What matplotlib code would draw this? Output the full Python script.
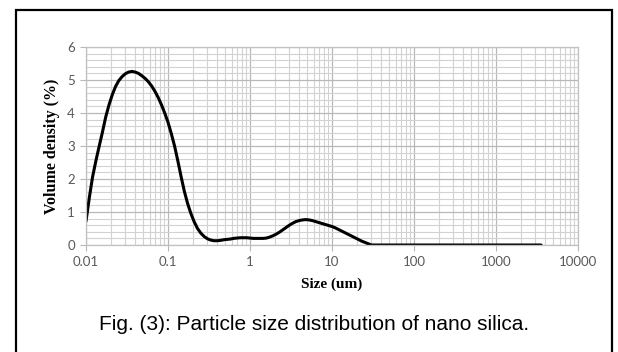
import matplotlib.pyplot as plt
from matplotlib.patches import Rectangle
from matplotlib.ticker import FixedLocator, LogLocator, MultipleLocator, NullFormatter

# particle size (um) and volume density (%)
size_um = [0.0100, 0.0110, 0.0120, 0.0132, 0.0145, 0.0158, 0.0174, 0.0191,
           0.0209, 0.0229, 0.0251, 0.0275, 0.0302, 0.0331, 0.0363, 0.0398,
           0.0437, 0.0479, 0.0525, 0.0575, 0.0631, 0.0692, 0.0759, 0.0832,
           0.0912, 0.1000, 0.1096, 0.1202, 0.1318, 0.1445, 0.1585, 0.1738,
           0.1905, 0.2089, 0.2291, 0.2512, 0.2754, 0.302, 0.331, 0.363,
           0.398, 0.437, 0.479, 0.525, 0.575, 0.631, 0.692, 0.759, 0.832,
           0.912, 1.0, 1.096, 1.202, 1.318, 1.445, 1.585, 1.738, 1.905,
           2.089, 2.291, 2.512, 2.754, 3.02, 3.31, 3.63, 3.98, 4.37, 4.79,
           5.25, 5.75, 6.31, 6.92, 7.59, 8.32, 9.12, 10.0, 10.96, 12.02,
           13.18, 14.45, 15.85, 17.38, 19.05, 20.89, 22.91, 25.12, 27.54,
           30.2, 100.0, 1000.0, 3548.0]
volume = [0.72, 1.45, 2.05, 2.55, 3.0, 3.4, 3.88, 4.25,
          4.55, 4.8, 4.98, 5.1, 5.19, 5.24, 5.26, 5.24,
          5.2, 5.13, 5.05, 4.95, 4.82, 4.66, 4.47, 4.25,
          4.0, 3.72, 3.38, 3.0, 2.55, 2.07, 1.62, 1.25,
          0.95, 0.7, 0.5, 0.36, 0.26, 0.19, 0.15, 0.13,
          0.13, 0.14, 0.16, 0.17, 0.18, 0.2, 0.21, 0.22, 0.22,
          0.22, 0.21, 0.2, 0.2, 0.2, 0.2, 0.21, 0.24, 0.28,
          0.33, 0.39, 0.46, 0.53, 0.6, 0.66, 0.71, 0.74, 0.76, 0.77,
          0.76, 0.74, 0.71, 0.68, 0.65, 0.62, 0.59, 0.56, 0.52, 0.47,
          0.42, 0.37, 0.32, 0.27, 0.22, 0.17, 0.12, 0.08, 0.04,
          0.0, 0.0, 0.0, 0.0]

x_ticks = [0.01, 0.1, 1, 10, 100, 1000, 10000]
x_labels = ["0.01", "0.1", "1", "10", "100", "1000", "10000"]
y_ticks = [0, 1, 2, 3, 4, 5, 6]

caption = "Fig. (3): Particle size distribution of nano silica."

fig = plt.figure(figsize=(6.18, 3.52), dpi=100)
fig.patch.set_facecolor("white")

# outer frame around chart and caption
fig.patches.append(Rectangle((16 / 618, -0.05), 596 / 618, 1.05 - 10 / 352,
                             transform=fig.transFigure, fill=False,
                             edgecolor="black", linewidth=1.6))

ax = fig.add_axes([86 / 618, 107 / 352, 492 / 618, 198 / 352])
ax.set_xscale("log")
ax.set_xlim(0.01, 10000)
ax.set_ylim(0, 6)

ax.xaxis.set_major_locator(FixedLocator(x_ticks))
ax.set_xticklabels(x_labels)
ax.xaxis.set_minor_locator(LogLocator(base=10, subs=range(2, 10)))
ax.xaxis.set_minor_formatter(NullFormatter())
ax.yaxis.set_major_locator(FixedLocator(y_ticks))
ax.yaxis.set_minor_locator(MultipleLocator(0.2))

ax.grid(which="major", color="#b8b8b8", linewidth=0.9)
ax.grid(which="minor", color="#d2d2d2", linewidth=0.8)
ax.set_axisbelow(True)

for s in ax.spines.values():
    s.set_color("#c0c0c0")
    s.set_linewidth(0.9)

ax.tick_params(which="major", length=4, color="#b8b8b8", labelsize=9.5,
               labelcolor="#595959", pad=4)
ax.tick_params(which="minor", length=0)
for lab in ax.get_xticklabels() + ax.get_yticklabels():
    lab.set_family("Lato")

ax.plot(size_um, volume, color="black", linewidth=2.2, solid_capstyle="round")

ax.set_xlabel("Size (um)", family="Liberation Serif", fontweight="bold",
              fontsize=11, labelpad=7)
ax.set_ylabel("Volume density (%)", family="Liberation Serif",
              fontweight="bold", fontsize=11.5, labelpad=5)

fig.text(314 / 618, 1 - 325 / 352, caption, family="Liberation Sans",
         fontsize=15, ha="center", va="center")

fig.savefig("out.png", dpi=100)
